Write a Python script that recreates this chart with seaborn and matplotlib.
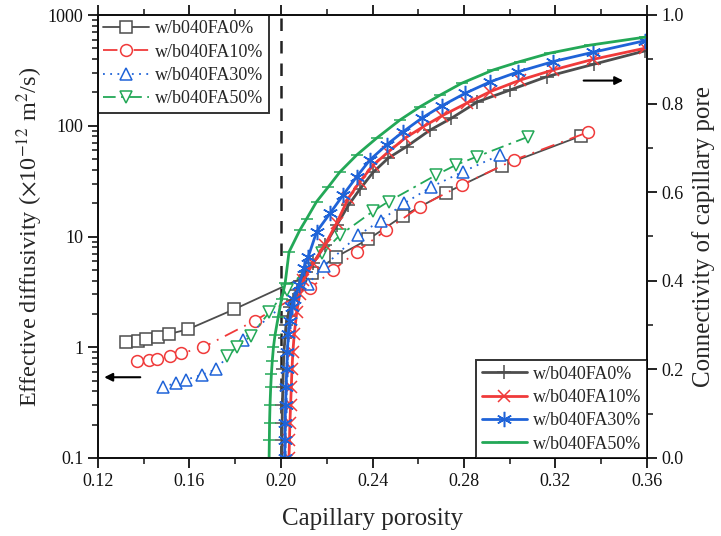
import matplotlib
matplotlib.use("Agg")
import matplotlib.pyplot as plt
import seaborn as sns
from matplotlib.ticker import MultipleLocator, LogLocator, NullFormatter

sns.set_theme(style="ticks")
plt.rcParams['font.family'] = ['Liberation Serif', 'DejaVu Serif']
plt.rcParams['mathtext.fontset'] = 'stix'

labels = ["w/b040FA0%", "w/b040FA10%", "w/b040FA30%", "w/b040FA50%"]
colors = ["#4d4d4d", "#f03a3a", "#1f63d8", "#23a857"]

# Effective diffusivity vs capillary porosity (left axis)
d_por_fa0 = [0.1324, 0.1376, 0.1409, 0.1464, 0.1512, 0.1593, 0.1795, 0.2136, 0.2240, 0.2382,
             0.2532, 0.2721, 0.2965, 0.3310]
d_val_fa0 = [1.11, 1.15, 1.18, 1.25, 1.32, 1.45, 2.2, 4.65, 6.53, 9.44,
             15.3, 24.8, 43.4, 80.7]
d_por_fa10 = [0.1371, 0.1421, 0.1457, 0.1513, 0.1564, 0.1660, 0.1886, 0.2127, 0.2229, 0.2331,
              0.2460, 0.2608, 0.2790, 0.3019, 0.3341]
d_val_fa10 = [0.746, 0.771, 0.789, 0.834, 0.883, 1.0, 1.74, 3.41, 4.99, 7.3,
              11.4, 18.6, 29.2, 49.1, 87.3]
d_por_fa30 = [0.1482, 0.1540, 0.1585, 0.1654, 0.1716, 0.1832, 0.2120, 0.2188, 0.2338, 0.2435,
              0.2538, 0.2654, 0.2794, 0.2957]
d_val_fa30 = [0.442, 0.471, 0.509, 0.564, 0.632, 1.17, 3.76, 5.39, 10.3, 13.9,
              19.9, 27.8, 38.4, 54.5]
d_por_fa50 = [0.1763, 0.1809, 0.1867, 0.1948, 0.2025, 0.2179, 0.2258, 0.2404, 0.2470, 0.2678,
              0.2765, 0.2856, 0.3081]
d_val_fa50 = [0.834, 1.01, 1.26, 2.06, 3.32, 7.05, 10.3, 17.0, 20.7, 35.9,
              44.3, 52.6, 79.6]

# Connectivity of capillary pore vs capillary porosity (right axis)
c_por_fa0 = [0.2003, 0.2004, 0.2005, 0.2006, 0.2008, 0.2010, 0.2013, 0.2017, 0.2022, 0.2030,
             0.2040, 0.2052, 0.2068, 0.2085, 0.2110, 0.2141, 0.2192, 0.2243, 0.2294, 0.2345,
             0.2403, 0.2469, 0.2549, 0.2651, 0.2745, 0.2859, 0.3003, 0.3163, 0.3368, 0.3591]
c_val_fa0 = [0.0, 0.04, 0.08, 0.12, 0.16, 0.20, 0.24, 0.27, 0.30, 0.32,
             0.34, 0.357, 0.38, 0.40, 0.42, 0.44, 0.48, 0.525, 0.57, 0.607,
             0.645, 0.677, 0.703, 0.74, 0.767, 0.804, 0.831, 0.861, 0.889, 0.919]
c_por_fa10 = [0.2035, 0.2037, 0.2039, 0.2042, 0.2045, 0.2048, 0.2052, 0.2058, 0.2069, 0.2082,
              0.2098, 0.2141, 0.2192, 0.2243, 0.2294, 0.2345, 0.2403, 0.2469, 0.2542, 0.2622,
              0.2702, 0.2812, 0.2914, 0.3045, 0.3190, 0.3365, 0.3591]
c_val_fa10 = [0.0, 0.04, 0.08, 0.12, 0.16, 0.20, 0.24, 0.28, 0.33, 0.37,
              0.402, 0.44, 0.481, 0.53, 0.586, 0.624, 0.661, 0.691, 0.722, 0.748,
              0.772, 0.801, 0.827, 0.853, 0.876, 0.900, 0.925]
c_por_fa30 = [0.2016, 0.2017, 0.2018, 0.2020, 0.2022, 0.2025, 0.2028, 0.2032, 0.2038, 0.2046,
              0.2058, 0.2080, 0.2100, 0.2119, 0.2156, 0.2214, 0.2272, 0.2331, 0.2389, 0.2462,
              0.2535, 0.2615, 0.2703, 0.2804, 0.2914, 0.3038, 0.3191, 0.3365, 0.3591]
c_val_fa30 = [0.0, 0.04, 0.08, 0.12, 0.16, 0.20, 0.24, 0.28, 0.31, 0.34,
              0.36, 0.39, 0.43, 0.454, 0.511, 0.552, 0.594, 0.635, 0.673, 0.707,
              0.737, 0.767, 0.795, 0.823, 0.849, 0.872, 0.895, 0.916, 0.942]
c_por_fa50 = [0.1948, 0.1949, 0.1950, 0.1952, 0.1955, 0.1958, 0.1962, 0.1967, 0.1974, 0.1988,
              0.2003, 0.2018, 0.2035, 0.2083, 0.2112, 0.2156, 0.2207, 0.2258, 0.2331, 0.2418,
              0.2520, 0.2608, 0.2695, 0.2790, 0.2928, 0.3045, 0.3176, 0.3351, 0.3591]
c_val_fa50 = [0.0, 0.04, 0.08, 0.12, 0.16, 0.19, 0.22, 0.25, 0.278, 0.319,
              0.36, 0.394, 0.465, 0.515, 0.540, 0.579, 0.612, 0.646, 0.684, 0.722,
              0.763, 0.793, 0.819, 0.846, 0.876, 0.895, 0.914, 0.932, 0.950]

threshold = 0.20

fig = plt.figure(figsize=(7.21, 5.36), dpi=100)
ax = fig.add_axes([98 / 721, 1 - 458 / 536, 549 / 721, 443 / 536])
ax2 = ax.twinx()

# diffusivity series
d_sets = [(d_por_fa0, d_val_fa0, 's', '-'),
          (d_por_fa10, d_val_fa10, 'o', (0, (8, 4, 1, 4))),
          (d_por_fa30, d_val_fa30, '^', (0, (1, 3))),
          (d_por_fa50, d_val_fa50, 'v', (0, (7, 3, 1.5, 3)))]
for (px, py, mk, ls), col, lab in zip(d_sets, colors, labels):
    sns.lineplot(x=px, y=py, ax=ax, sort=False, estimator=None, color=col,
                 linestyle=ls, linewidth=1.3, marker=mk, markersize=8.5,
                 markerfacecolor='white', markeredgecolor=col, markeredgewidth=1.1,
                 label=lab)

# connectivity series
c_sets = [(c_por_fa0, c_val_fa0, '+', 10),
          (c_por_fa10, c_val_fa10, 'x', 9),
          (c_por_fa30, c_val_fa30, (6, 2, 0), 11),
          (c_por_fa50, c_val_fa50, '_', 9)]
for (px, py, mk, ms), col, lab in zip(c_sets, colors, labels):
    sns.lineplot(x=px, y=py, ax=ax2, sort=False, estimator=None, color=col,
                 linestyle='-', linewidth=2.0, marker=mk, markersize=ms,
                 markeredgecolor=col, markeredgewidth=1.1, label=lab)

ax.set_yscale('log')
ax.set_xlim(0.12, 0.36)
ax.set_ylim(0.1, 1000)
ax2.set_ylim(0.0, 1.0)

ax.axvline(threshold, color='#222222', linestyle=(0, (5, 4)), linewidth=1.8, zorder=1)

ax.xaxis.set_major_locator(MultipleLocator(0.04))
ax.xaxis.set_minor_locator(MultipleLocator(0.02))
ax.xaxis.set_major_formatter(matplotlib.ticker.FormatStrFormatter('%.2f'))
ax.yaxis.set_minor_locator(LogLocator(base=10, subs=range(2, 10), numticks=20))
ax.yaxis.set_minor_formatter(NullFormatter())
ax.set_yticks([0.1, 1, 10, 100, 1000])
ax.set_yticklabels(['0.1', '1', '10', '100', '1000'])
ax2.yaxis.set_major_locator(MultipleLocator(0.2))
ax2.yaxis.set_minor_locator(MultipleLocator(0.1))
ax2.yaxis.set_major_formatter(matplotlib.ticker.FormatStrFormatter('%.1f'))

for a in (ax, ax2):
    for s in a.spines.values():
        s.set_linewidth(1.4)
        s.set_color('#111111')
    a.set_facecolor('none')

ax.tick_params(axis='x', which='both', direction='out', top=True, labelsize=13, colors='#111111')
ax.tick_params(axis='y', which='both', direction='out', labelsize=13, colors='#111111')
ax.tick_params(which='major', length=7, width=1.3)
ax.tick_params(which='minor', length=4, width=1.1)
ax2.tick_params(axis='y', which='both', direction='out', labelsize=13, colors='#111111')
ax2.tick_params(which='major', length=7, width=1.3)
ax2.tick_params(which='minor', length=4, width=1.1)

ax.set_xlabel('Capillary porosity', fontsize=18, labelpad=13)
ax.set_ylabel(r'Effective diffusivity ($\times$10$^{-12}$ m$^2$/s)', fontsize=17.5, labelpad=2)
ax2.set_ylabel('Connectivity of capillary pore', fontsize=18, labelpad=6)

# direction arrows
ax.annotate('', xy=(0.1215, 0.536), xytext=(0.1397, 0.536),
            arrowprops=dict(arrowstyle='-|>', color='black', lw=1.5, mutation_scale=12))
ax2.annotate('', xy=(0.3508, 0.852), xytext=(0.3311, 0.852),
             arrowprops=dict(arrowstyle='-|>', color='black', lw=1.5, mutation_scale=12))

leg1 = ax.legend(loc='upper left', fontsize=13, frameon=True, fancybox=False,
                 edgecolor='black', borderaxespad=0, handlelength=2.5,
                 handletextpad=0.35, borderpad=0.3, labelspacing=0.35)
leg1.get_frame().set_linewidth(1.4)
leg2 = ax2.legend(loc='lower right', fontsize=13, frameon=True, fancybox=False,
                  edgecolor='black', borderaxespad=0, handlelength=2.5,
                  handletextpad=0.35, borderpad=0.3, labelspacing=0.35)
leg2.get_frame().set_linewidth(1.4)

fig.savefig('out.png', dpi=100)
